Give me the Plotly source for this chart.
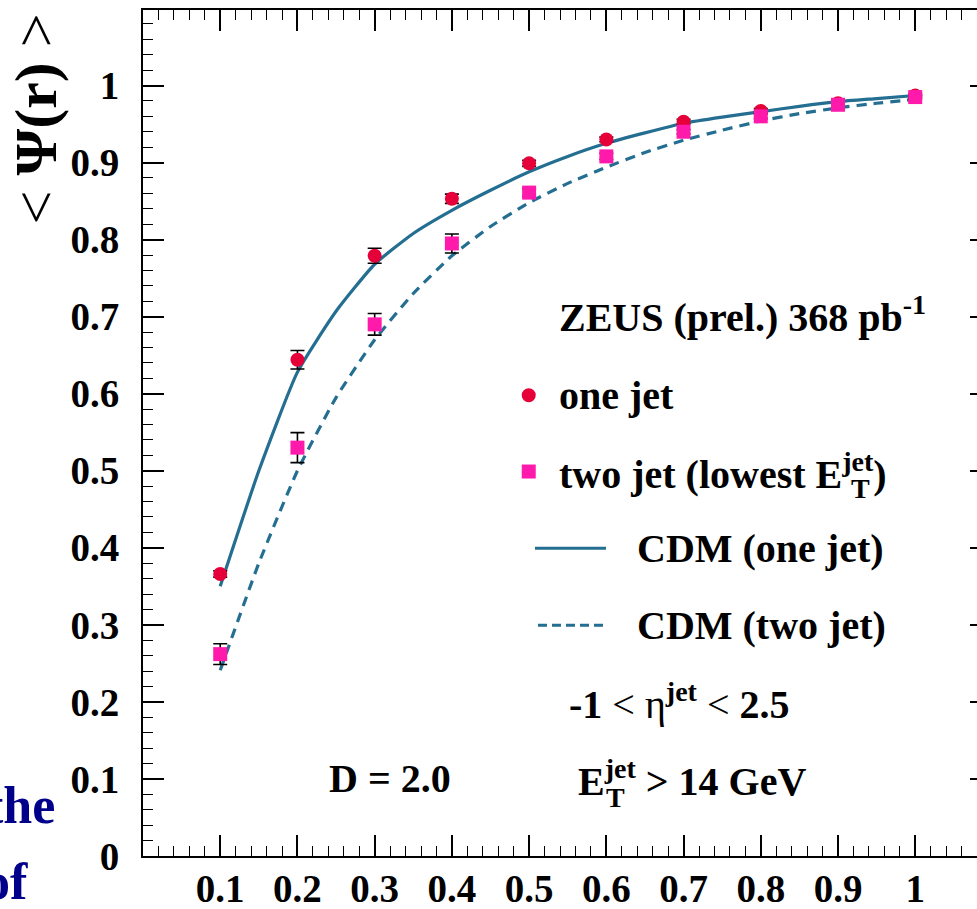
import plotly.graph_objects as go

# ---- data ----
r_points = [0.1, 0.2, 0.3, 0.4, 0.5, 0.6, 0.7, 0.8, 0.9, 1.0]
one_jet = [0.366, 0.644, 0.779, 0.853, 0.899, 0.930, 0.953, 0.967, 0.977, 0.987]
one_jet_err = [0.004, 0.012, 0.0097, 0.006, 0.004, 0.003, 0.003, 0.003, 0.002, 0.002]
two_jet = [0.262, 0.530, 0.690, 0.795, 0.861, 0.908, 0.940, 0.960, 0.975, 0.985]
two_jet_err = [0.0134, 0.0195, 0.014, 0.0123, 0.005, 0.004, 0.003, 0.003, 0.002, 0.002]

cdm_r = [0.1, 0.15, 0.2, 0.25, 0.3, 0.35, 0.4, 0.45, 0.5, 0.55, 0.6, 0.65, 0.7,
         0.75, 0.8, 0.85, 0.9, 0.95, 1.0]
cdm_one = [0.350, 0.500, 0.628, 0.707, 0.768, 0.808, 0.838, 0.864, 0.888, 0.908,
           0.925, 0.9385, 0.951, 0.959, 0.966, 0.973, 0.979, 0.983, 0.987]
cdm_two = [0.241, 0.380, 0.500, 0.595, 0.670, 0.730, 0.779, 0.817, 0.848, 0.873,
           0.894, 0.913, 0.929, 0.942, 0.954, 0.9635, 0.971, 0.977, 0.982]

x_tick_vals = [0.1, 0.2, 0.3, 0.4, 0.5, 0.6, 0.7, 0.8, 0.9, 1.0]
x_tick_text = ["0.1", "0.2", "0.3", "0.4", "0.5", "0.6", "0.7", "0.8", "0.9", "1"]

# ---- style ----
RED = "#E6003A"
PINK = "#FF1AAB"
BLUE = "#246E91"
FONT = "Times New Roman, Liberation Serif, Times, serif"

fig = go.Figure()

fig.add_trace(go.Scatter(x=cdm_r, y=cdm_one, mode="lines",
                         line=dict(color=BLUE, width=3.2, shape="spline", smoothing=0.5),
                         showlegend=False))
fig.add_trace(go.Scatter(x=cdm_r, y=cdm_two, mode="lines",
                         line=dict(color=BLUE, width=3.2, dash="10px,7px",
                                   shape="spline", smoothing=0.5),
                         showlegend=False))
fig.add_trace(go.Scatter(x=r_points, y=one_jet, mode="markers",
                         marker=dict(symbol="circle", size=14, color=RED),
                         error_y=dict(type="data", array=one_jet_err, color="black",
                                      thickness=1.6, width=7),
                         showlegend=False))
fig.add_trace(go.Scatter(x=r_points, y=two_jet, mode="markers",
                         marker=dict(symbol="square", size=14, color=PINK),
                         error_y=dict(type="data", array=two_jet_err, color="black",
                                      thickness=1.6, width=7),
                         showlegend=False))

tickfont = dict(family=FONT, size=39, color="black", weight="bold")
Y_RANGE = [0, 1.098]

fig.update_xaxes(range=[0, 1.08], showline=True, linecolor="black", linewidth=2,
                 mirror="ticks", ticks="inside", ticklen=21, tickwidth=1.5,
                 tickcolor="black", tickmode="array", tickvals=x_tick_vals,
                 ticktext=x_tick_text, tickfont=tickfont, ticklabelstandoff=-3,
                 automargin=False,
                 minor=dict(ticks="inside", ticklen=10, tickwidth=1.3,
                            tickcolor="black", dtick=0.02, tick0=0, showgrid=False),
                 showgrid=False, zeroline=False)
fig.update_layout(
    yaxis=dict(range=Y_RANGE, showline=True, linecolor="black", linewidth=2,
               mirror=False, ticks="inside", ticklen=21, tickwidth=1.5,
               tickcolor="black", dtick=0.1, tick0=0, tickfont=tickfont,
               ticklabelstandoff=14, automargin=False,
               minor=dict(ticks="inside", ticklen=10, tickwidth=1.3,
                          tickcolor="black", dtick=0.02, tick0=0, showgrid=False),
               showgrid=False, zeroline=False),
    # right-hand frame: its ticks only peek in at the cropped right edge
    yaxis2=dict(range=Y_RANGE, overlaying="y", side="right", showline=False,
                ticks="inside", ticklen=7, tickwidth=1.5, tickcolor="black",
                dtick=0.1, tick0=0, showticklabels=False, automargin=False,
                showgrid=False, zeroline=False),
)
# invisible helper trace so the right axis is drawn
fig.add_trace(go.Scatter(x=[None], y=[None], yaxis="y2", showlegend=False,
                         hoverinfo="skip"))

# legend keys
fig.add_shape(type="circle", xref="x", yref="y", xsizemode="pixel", ysizemode="pixel",
              xanchor=0.4995, yanchor=0.598, x0=-7, x1=7, y0=-7, y1=7,
              fillcolor=RED, line=dict(width=0))
fig.add_shape(type="rect", xref="x", yref="y", xsizemode="pixel", ysizemode="pixel",
              xanchor=0.4995, yanchor=0.499, x0=-7, x1=7, y0=-7, y1=7,
              fillcolor=PINK, line=dict(width=0))
fig.add_shape(type="line", xref="x", yref="y", x0=0.5076, x1=0.5996, y0=0.3994, y1=0.3994,
              line=dict(color=BLUE, width=3.2))
fig.add_shape(type="line", xref="x", yref="y", x0=0.5115, x1=0.5996, y0=0.2995, y1=0.2995,
              line=dict(color=BLUE, width=3.2, dash="9px,5px"))

def txt(x, y, text, size=40, xanchor="left", color="black", xref="x", yref="y", **kw):
    fig.add_annotation(x=x, y=y, xref=xref, yref=yref, text=text, showarrow=False,
                       xanchor=xanchor, yanchor="middle",
                       font=dict(family=FONT, size=size, color=color), **kw)

txt(0.536, 0.703, "<b>ZEUS (prel.) 368 pb<sup>-1</sup></b>")
txt(0.536, 0.598, "<b>one jet</b>")
txt(0.536, 0.499, "<b>two jet (lowest E<sup>jet</sup>)</b>")
txt(0.929, 0.477, "<b>T</b>", size=28, xanchor="center")
txt(0.637, 0.399, "<b>CDM (one jet)</b>")
txt(0.637, 0.2995, "<b>CDM (two jet)</b>")
txt(0.549, 0.2, "<b>-1</b> < η<b><sup>jet</sup></b> < <b>2.5</b>")
txt(0.561, 0.1, "<b>E<sup>jet</sup> > 14 GeV</b>")
txt(0.6125, 0.076, "<b>T</b>", size=28, xanchor="center")
txt(0.238, 0.1, "<b>D = 2.0</b>")

# y-axis title
fig.add_annotation(x=-0.128, y=0.871, xref="paper", yref="paper",
                   text="< <b>Ψ(r)</b> >", textangle=-90, showarrow=False,
                   xanchor="center", yanchor="middle",
                   font=dict(family=FONT, size=60, color="black"))

# fragments of slide text behind the figure
txt(-0.103, 0.06, "<b>the</b>", size=52, xanchor="right", color="#00008B",
    xref="paper", yref="paper")
txt(-0.1355, -0.03, "<b>of</b>", size=52, xanchor="right", color="#00008B",
    xref="paper", yref="paper")

fig.update_layout(width=977, height=909, margin=dict(l=143, r=0, t=10, b=53),
                  plot_bgcolor="white", paper_bgcolor="white", showlegend=False,
                  font=dict(family=FONT))

fig.write_html("out.html", config={"displayModeBar": False},
               post_script="document.body.style.margin='0';")
